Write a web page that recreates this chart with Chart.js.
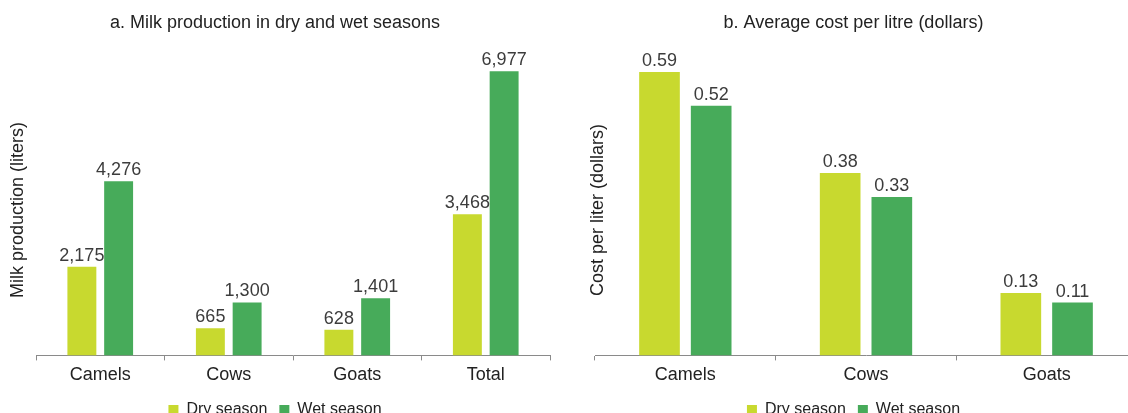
<!DOCTYPE html>
<html>
<head>
<meta charset="utf-8">
<script src="https://cdn.jsdelivr.net/npm/chart.js@4.4.1/dist/chart.umd.min.js"></script>
<style>
  html, body { margin: 0; padding: 0; background: #fff; overflow: hidden; width: 1128px; height: 413px; }
  .panel { position: absolute; top: 0; height: 428px; }
  #pA { left: 0; width: 566px; }
  #pB { left: 570px; width: 580px; }
</style>
</head>
<body>
<div class="panel" id="pA"><canvas id="cA"></canvas></div>
<div class="panel" id="pB"><canvas id="cB"></canvas></div>
<script>
// Milk production and cost per litre, dry vs wet season, two panels side by side.
Chart.defaults.font.family = "'Liberation Sans', Arial, Helvetica, sans-serif";
Chart.defaults.color = "#222";

const C = {dry: "#c8d92f", wet: "#47ab5a", axis: "#8a8a8a", label: "#3c3c3c"};

const productionCats = ["Camels", "Cows", "Goats", "Total"];
const dryProduction = [2175, 665, 628, 3468];
const wetProduction = [4276, 1300, 1401, 6977];

const costCats = ["Camels", "Cows", "Goats"];
const dryCost = [0.59, 0.38, 0.13];
const wetCost = [0.52, 0.33, 0.11];

// value text above every bar
const barValues = {
  id: "barValues",
  afterDatasetsDraw(chart, args, opts) {
    const {ctx} = chart;
    ctx.save();
    ctx.font = "18px " + Chart.defaults.font.family;
    ctx.fillStyle = C.label;
    ctx.textAlign = "center";
    ctx.textBaseline = "alphabetic";
    chart.data.datasets.forEach((ds, i) => {
      chart.getDatasetMeta(i).data.forEach((bar, j) => {
        ctx.fillText(opts.fmt(ds.data[j]), bar.x, bar.y - 6);
      });
    });
    ctx.restore();
  }
};

function makeChart(id, cats, dry, wet, o) {
  return new Chart(document.getElementById(id), {
    type: "bar",
    data: {labels: cats, datasets: [
      {label: "Dry season", data: dry, backgroundColor: C.dry, borderWidth: 0},
      {label: "Wet season", data: wet, backgroundColor: C.wet, borderWidth: 0},
    ]},
    plugins: [barValues],
    options: {
      responsive: true, maintainAspectRatio: false, animation: false,
      datasets: {bar: {categoryPercentage: 0.572, barPercentage: 0.787}},
      layout: {padding: {left: 0, right: o.padRight, top: 0, bottom: 0}},
      plugins: {
        title: {display: true, text: o.title, color: "#222", font: {size: 18, weight: "normal"},
                padding: {top: 12, bottom: 31}},
        legend: {position: "bottom", labels: {boxWidth: 10, boxHeight: 10, padding: 12, color: "#222", font: {size: 16}}},
        tooltip: {enabled: false},
        barValues: {fmt: o.fmt}
      },
      scales: {
        x: {
          grid: {display: true, drawOnChartArea: false, drawTicks: true, tickLength: 5, color: C.axis, offset: true},
          border: {display: true, color: C.axis, width: 1},
          ticks: {color: "#222", font: {size: 18}, padding: 4}
        },
        y: {
          min: 0, max: o.max,
          grid: {display: false, drawTicks: false},
          border: {display: false},
          ticks: {display: false},
          title: {display: true, text: o.yTitle, color: "#222", font: {size: 18, lineHeight: 1}, padding: o.yPad}
        }
      }
    }
  });
}

makeChart("cA", productionCats, dryProduction, wetProduction, {
  title: "a. Milk production in dry and wet seasons",
  yTitle: "Milk production (liters)",
  max: 7143, padRight: 16, yPad: {top: 9, bottom: 9},
  fmt: v => v.toLocaleString("en-US")
});

makeChart("cB", costCats, dryCost, wetCost, {
  title: "b. Average cost per litre (dollars)",
  yTitle: "Cost per liter (dollars)",
  max: 0.6056, padRight: 13, yPad: {top: 19, bottom: -12},
  fmt: v => v.toFixed(2)
});
</script>
</body>
</html>
